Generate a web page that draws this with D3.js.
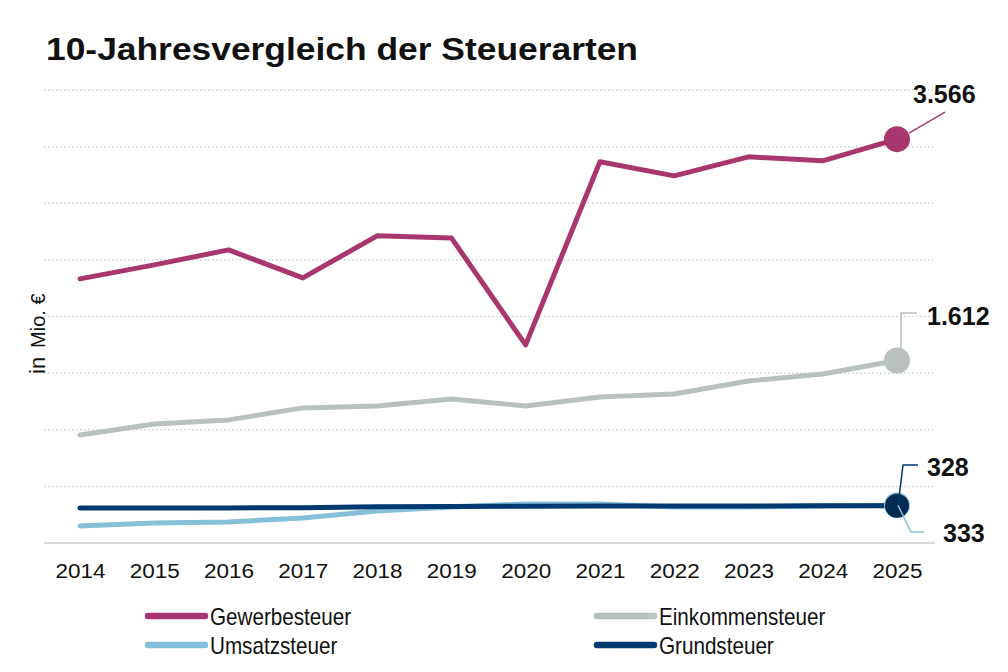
<!DOCTYPE html>
<html>
<head>
<meta charset="utf-8">
<script src="https://cdn.jsdelivr.net/npm/d3@7"></script>
<style>
  body { margin: 0; background: #fff; }
  text { font-family: "Liberation Sans", Arial, sans-serif; }
</style>
</head>
<body>
<div id="chart"></div>
<script>
var years = [2014, 2015, 2016, 2017, 2018, 2019, 2020, 2021, 2022, 2023, 2024, 2025];
var gewerbesteuer = [2332, 2456, 2588, 2341, 2712, 2694, 1749, 3366, 3242, 3410, 3375, 3566];
var einkommensteuer = [954, 1051, 1087, 1193, 1210, 1272, 1210, 1290, 1316, 1431, 1493, 1612];
var umsatzsteuer = [150, 177, 186, 221, 283, 318, 345, 345, 318, 318, 327, 333];
var grundsteuer = [310, 310, 310, 312, 320, 322, 324, 326, 327, 327, 328, 328];
var yTicks = [0, 500, 1000, 1500, 2000, 2500, 3000, 3500, 4000];

var series = [
    {name: "Umsatzsteuer", values: umsatzsteuer, color: "#86bfd9", dot: "#86bfd9", r: 13},
    {name: "Grundsteuer", values: grundsteuer, color: "#003a70", dot: "#012a50", r: 12},
    {name: "Einkommensteuer", values: einkommensteuer, color: "#b8c0c0", dot: "#b8c0c0", r: 13},
    {name: "Gewerbesteuer", values: gewerbesteuer, color: "#a8376f", dot: "#a8376f", r: 13}
];

var width = 1008,
    height = 672;

var svg = d3.select("#chart").append("svg")
    .attr("width", width)
    .attr("height", height);

var x = d3.scalePoint()
    .domain(years)
    .range([80, 897]);

var y = d3.scaleLinear()
    .domain([0, 4000])
    .range([543, 90]);

// title
svg.append("text")
    .attr("x", 46)
    .attr("y", 60)
    .attr("font-size", 31)
    .attr("font-weight", "bold")
    .attr("fill", "#111")
    .attr("textLength", 592)
    .attr("lengthAdjust", "spacingAndGlyphs")
    .text("10-Jahresvergleich der Steuerarten");

// grid
svg.append("g")
    .selectAll("line")
    .data(yTicks.slice(1))
    .enter().append("line")
    .attr("x1", 44)
    .attr("x2", 933)
    .attr("y1", function (d) { return y(d); })
    .attr("y2", function (d) { return y(d); })
    .attr("stroke", "#cfcfcf")
    .attr("stroke-width", 1.5)
    .attr("stroke-dasharray", "1.5,2.5");

svg.append("line")
    .attr("x1", 44)
    .attr("x2", 935)
    .attr("y1", y(0))
    .attr("y2", y(0))
    .attr("stroke", "#d9d9d9")
    .attr("stroke-width", 2);

// x axis labels
var xAxis = svg.append("g")
    .attr("transform", "translate(0," + 561 + ")")
    .call(d3.axisBottom(x).tickSize(0).tickPadding(0));
xAxis.select(".domain").remove();
xAxis.selectAll("text")
    .attr("font-family", "Liberation Sans, Arial, sans-serif")
    .attr("font-size", 20)
    .attr("fill", "#111")
    .attr("dy", "0.85em")
    .attr("textLength", 50)
    .attr("lengthAdjust", "spacingAndGlyphs");

// y label
var yl = svg.append("text")
    .attr("transform", "translate(45,374) rotate(-90)")
    .attr("fill", "#111");
yl.append("tspan").attr("font-size", 22).text("in");
yl.append("tspan").attr("font-size", 20).attr("dx", 9).text("Mio. €");

// lines
var line = d3.line()
    .x(function (d, i) { return x(years[i]); })
    .y(function (d) { return y(d); });

svg.append("g")
    .selectAll("path")
    .data(series)
    .enter().append("path")
    .attr("d", function (d) { return line(d.values); })
    .attr("fill", "none")
    .attr("stroke", function (d) { return d.color; })
    .attr("stroke-width", 5)
    .attr("stroke-linecap", "round")
    .attr("stroke-linejoin", "round");

// end dots
var last = years.length - 1;
svg.append("g")
    .selectAll("circle")
    .data(series)
    .enter().append("circle")
    .attr("cx", x(years[last]))
    .attr("cy", function (d) { return y(d.values[last]); })
    .attr("r", function (d) { return d.r; })
    .attr("fill", function (d) { return d.dot; });

// annotations
var fmt = d3.formatLocale({decimal: ",", thousands: ".", grouping: [3], currency: ["", " €"]}).format(",d");
var cx = x(years[last]);

function annotate(s, points, tx, ty) {
    svg.append("polyline")
        .attr("points", points.map(function (p) { return p.join(","); }).join(" "))
        .attr("fill", "none")
        .attr("stroke", s.color)
        .attr("stroke-width", 1.5);
    svg.append("text")
        .attr("x", tx)
        .attr("y", ty)
        .attr("font-size", 25)
        .attr("font-weight", "bold")
        .attr("fill", "#111")
        .text(fmt(s.values[last]));
}

var gy = y(gewerbesteuer[last]);
annotate(series[3], [[cx + 12, gy - 6], [cx + 48, gy - 27]], 913, 103);
var ey = y(einkommensteuer[last]);
annotate(series[2], [[cx + 4, ey - 12], [cx + 4, 313], [cx + 20, 313]], 927, 325);
var ny = y(grundsteuer[last]);
annotate(series[1], [[cx + 1, ny], [cx + 6, 465], [cx + 21, 465]], 927, 476);
var uy = y(umsatzsteuer[last]);
annotate(series[0], [[cx + 1, uy], [cx + 14, 532], [cx + 27, 532]], 943, 542);

// legend
var legend = [
    {s: series[3], lx: 146, ly: 616},
    {s: series[2], lx: 595, ly: 616},
    {s: series[0], lx: 146, ly: 645},
    {s: series[1], lx: 595, ly: 645}
];
var lg = svg.append("g")
    .selectAll("g")
    .data(legend)
    .enter().append("g")
    .attr("transform", function (d) { return "translate(" + d.lx + "," + d.ly + ")"; });
lg.append("line")
    .attr("x1", 2)
    .attr("x2", 59)
    .attr("stroke", function (d) { return d.s.color; })
    .attr("stroke-width", 6.5)
    .attr("stroke-linecap", "round");
lg.append("text")
    .attr("x", 64)
    .attr("y", 9)
    .attr("font-size", 24)
    .attr("fill", "#111")
    .text(function (d) { return d.s.name; })
    .each(function () {
        var w = this.getComputedTextLength();
        d3.select(this)
            .attr("textLength", w * 0.86)
            .attr("lengthAdjust", "spacingAndGlyphs");
    });
</script>
</body>
</html>
